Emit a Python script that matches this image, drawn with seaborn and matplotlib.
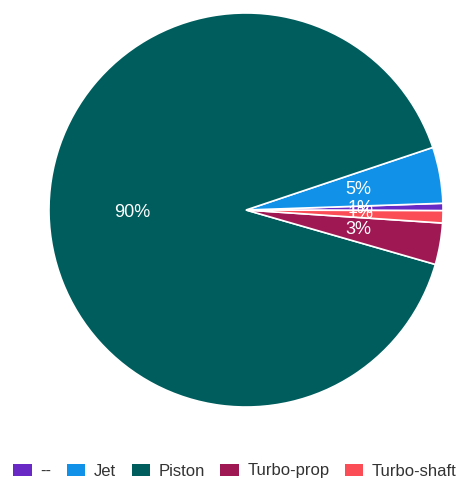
import matplotlib
matplotlib.use("Agg")
import matplotlib.pyplot as plt
import seaborn as sns
from matplotlib.patches import Patch

sns.set_theme(style="white")
plt.rcParams["font.family"] = ["Liberation Sans", "DejaVu Sans"]

# data
categories = ["--", "Jet", "Piston", "Turbo-prop", "Turbo-shaft"]
shares = [0.6, 4.6, 90.4, 3.4, 1.0]
colors = ["#6929c4", "#1192e8", "#005d5d", "#9f1853", "#fa4d56"]
palette = sns.color_palette(colors)

fig = plt.figure(figsize=(4.76, 4.82), dpi=100)
ax = fig.add_axes([48 / 476, (482 - 408) / 482, 396 / 476, 396 / 482])

wedges, texts, autotexts = ax.pie(
    shares, colors=palette, startangle=-0.2, counterclock=True,
    autopct="%1.0f%%", pctdistance=0.58,
    wedgeprops=dict(edgecolor="white", linewidth=1.2),
    textprops=dict(color="white", fontsize=13),
)
ax.set_xlim(-1.005, 1.005)
ax.set_ylim(-1.005, 1.005)
ax.set_aspect("equal")

handles = [Patch(facecolor=c, edgecolor="none") for c in palette]
fig.legend(
    handles, categories, loc="center", bbox_to_anchor=(235 / 476, 1 - 471 / 482),
    ncol=5, frameon=False, fontsize=12, handlelength=1.1, handleheight=0.7,
    handletextpad=0.5, columnspacing=0.95, labelcolor="#333333",
)

fig.savefig("out.png", dpi=100)
